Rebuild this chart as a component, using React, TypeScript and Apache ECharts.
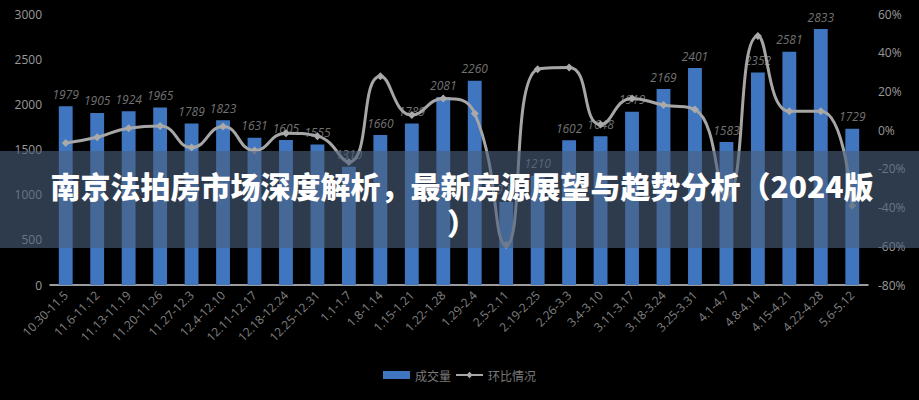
import React, { useEffect, useRef } from "react";
import * as echarts from "echarts";

const categories = [
  "10.30-11.5", "11.6-11.12", "11.13-11.19", "11.20-11.26", "11.27-12.3", "12.4-12.10",
  "12.11-12.17", "12.18-12.24", "12.25-12.31", "1.1-1.7", "1.8-1.14", "1.15-1.21",
  "1.22-1.28", "1.29-2.4", "2.5-2.11", "2.19-2.25", "2.26-3.3", "3.4-3.10",
  "3.11-3.17", "3.18-3.24", "3.25-3.31", "4.1-4.7", "4.8-4.14", "4.15-4.21",
  "4.22-4.28", "5.6-5.12",
];
const volume = [
  1979, 1905, 1924, 1965, 1789, 1823, 1631, 1605, 1555, 1310, 1660, 1789, 2081, 2260,
  920, 1210, 1602, 1648, 1919, 2169, 2401, 1583, 2352, 2581, 2833, 1729,
];
const ratio = [
  -6.6, -3.7, 1.0, 2.1, -9.0, 1.9, -10.5, -1.6, -3.1, -16.4, 27.9, 7.8, 16.3, 8.6,
  -59.3, 31.5, 32.4, 2.9, 16.4, 13.0, 10.7, -34.1, 48.6, 9.7, 9.8, -39.0,
];
const seriesNames = ["成交量", "环比情况"];
const title = "南京法拍房市场深度解析，最新房源展望与趋势分析（2024版\n）";

export default function App() {
  const ref = useRef<HTMLDivElement>(null);
  useEffect(() => {
    if (!ref.current) return;
    const chart = echarts.init(ref.current, null, { renderer: "svg" });
    chart.setOption({
      animation: false,
      backgroundColor: "#000",
      textStyle: { fontFamily: "'Open Sans', 'Noto Sans CJK SC', sans-serif" },
      grid: { left: 50, right: 51, top: 14, bottom: 115, containLabel: false },
      legend: {
        bottom: 14,
        left: "center",
        itemWidth: 27,
        itemHeight: 8,
        itemGap: 4,
        textStyle: { color: "#7a7a7a", fontSize: 12, fontFamily: "'Noto Sans CJK SC', sans-serif" },
        data: [
          { name: seriesNames[0], icon: "rect" },
          { name: seriesNames[1] },
        ],
      },
      xAxis: {
        type: "category",
        data: categories,
        axisLine: { lineStyle: { color: "#d0d0d0", width: 1.5 } },
        axisTick: { show: false },
        axisLabel: { rotate: 45, color: "#808080", fontSize: 12, interval: 0, margin: 8 },
      },
      yAxis: [
        {
          type: "value",
          min: 0,
          max: 3000,
          interval: 500,
          splitLine: { show: false },
          axisLine: { show: false },
          axisTick: { show: false },
          axisLabel: { color: "#9a9a9a", fontSize: 12, margin: 8, formatter: (v: number) => String(v) },
        },
        {
          type: "value",
          min: -80,
          max: 60,
          interval: 20,
          splitLine: { show: false },
          axisLine: { show: false },
          axisTick: { show: false },
          axisLabel: { color: "#9a9a9a", fontSize: 12, margin: 10, formatter: "{value}%" },
        },
      ],
      series: [
        {
          name: seriesNames[0],
          type: "bar",
          data: volume,
          barWidth: "44%",
          itemStyle: { color: "#3f76bf" },
          label: {
            show: true,
            position: "top",
            distance: 6,
            color: "#727272",
            fontSize: 12,
            fontStyle: "italic",
          },
        },
        {
          name: seriesNames[1],
          type: "line",
          yAxisIndex: 1,
          data: ratio,
          smooth: 0.5,
          symbol: "diamond",
          symbolSize: 8,
          lineStyle: { color: "#a6a6a6", width: 3 },
          itemStyle: { color: "#aaaaaa" },
        },
      ],
      graphic: [
        {
          type: "rect",
          left: 0,
          top: 151,
          shape: { width: 919, height: 97 },
          style: { fill: "rgba(75,95,125,0.62)" },
          z: 100,
        },
        {
          type: "text",
          x: 462,
          y: 166,
          style: {
            text: title,
            fill: "#ffffff",
            fontSize: 30,
            fontWeight: 900,
            fontFamily: "'Noto Sans CJK SC', sans-serif",
            lineHeight: 37,
            align: "center",
            verticalAlign: "top",
          },
          z: 101,
        },
      ],
    });
    return () => chart.dispose();
  }, []);
  return (
    <div
      ref={ref}
      style={{ position: "absolute", left: 0, top: 0, width: 919, height: 400 }}
    />
  );
}
